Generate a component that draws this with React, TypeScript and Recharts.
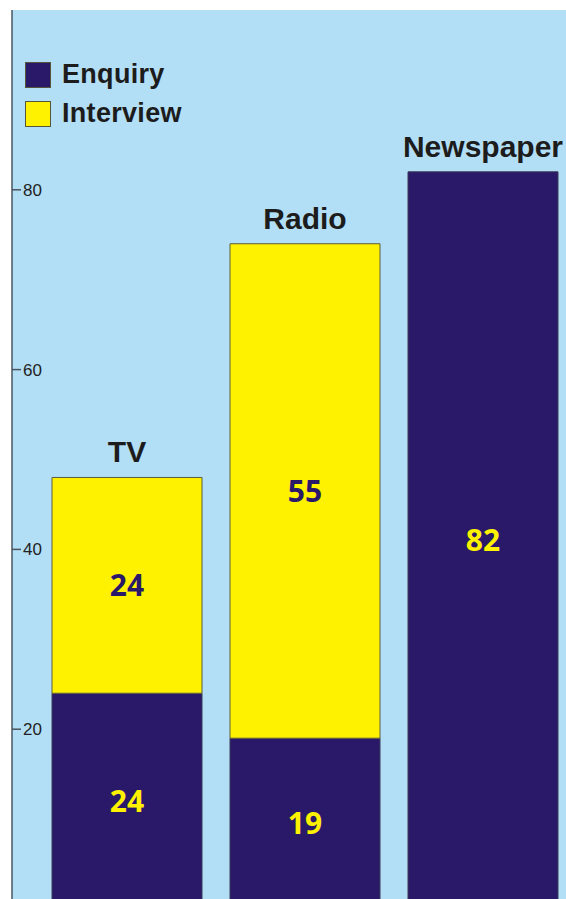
import { BarChart, Bar, XAxis, YAxis, CartesianGrid, LabelList, Legend } from "recharts"

const categories = ["TV", "Radio", "Newspaper"]
const enquiry = [24, 19, 82]
const interview = [24, 55, 0]
const yTicks = [20, 40, 60, 80]

const NAVY = "#2a1869"
const YELLOW = "#fff200"
const SKY = "#b3dff6"
const SANS = "'Liberation Sans', Arial, sans-serif"

const data = categories.map((name, i) => ({
  name,
  enquiry: enquiry[i],
  interview: interview[i],
}))

function LegendBox({ payload }: any) {
  return (
    <div>
      {(payload || []).map((p: any) => (
        <div key={p.value} style={{ display: "flex", alignItems: "center", height: 39 }}>
          <span
            style={{
              width: 26,
              height: 26,
              boxSizing: "border-box",
              background: p.color,
              border: "1px solid #55553a",
              marginRight: 11,
            }}
          />
          <span style={{ font: `bold 27px ${SANS}`, letterSpacing: 0.3, color: "#1c1c1c" }}>
            {p.value}
          </span>
        </div>
      ))}
    </div>
  )
}

// Category name above the whole stack, placed from the enquiry segment
function StackTitle(props: any) {
  const { viewBox, index } = props
  const { x, y, width, height } = viewBox
  const perUnit = height / enquiry[index]
  const top = y - interview[index] * perUnit
  return (
    <text
      x={x + width / 2}
      y={top - 15}
      textAnchor="middle"
      fill="#1c1c1c"
      fontSize={30}
      fontWeight="bold"
      fontFamily={SANS}
    >
      {categories[index]}
    </text>
  )
}

export default function App() {
  return (
    <div
      style={{
        position: "absolute",
        top: 0,
        left: 0,
        width: 566,
        height: 899,
        overflow: "hidden",
        background: "#fff",
      }}
    >
      <BarChart
        width={572}
        height={910}
        data={data}
        margin={{ top: 10, right: 0, left: 12, bottom: 1 }}
      >
        <CartesianGrid fill={SKY} horizontal={false} vertical={false} />
        <XAxis dataKey="name" hide padding={{ left: 26, right: 0 }} />
        <YAxis
          mirror
          domain={[0, 100]}
          ticks={yTicks}
          tickSize={9}
          tickMargin={2}
          axisLine={{ stroke: "#4a5560", strokeWidth: 1.5 }}
          tickLine={{ stroke: "#4a5560", strokeWidth: 1.5 }}
          tick={{ fill: "#222", fontSize: 17, fontFamily: SANS }}
        />
        <Legend
          layout="horizontal"
          verticalAlign="middle"
          align="center"
          content={<LegendBox />}
          wrapperStyle={{ position: "absolute", left: 25, top: 55, width: "auto" }}
        />
        <Bar
          dataKey="enquiry"
          name="Enquiry"
          stackId="s"
          fill={NAVY}
          stroke="#3a3a55"
          strokeWidth={1}
          barSize={150}
          isAnimationActive={false}
        >
          <LabelList
            dataKey="enquiry"
            position="center"
            fill={YELLOW}
            fontSize={30}
            fontWeight="bold"
            fontFamily="'Open Sans', sans-serif"
          />
          <LabelList dataKey="name" content={<StackTitle />} />
        </Bar>
        <Bar
          dataKey="interview"
          name="Interview"
          stackId="s"
          fill={YELLOW}
          stroke="#5c5c3d"
          strokeWidth={1}
          barSize={150}
          isAnimationActive={false}
        >
          <LabelList
            dataKey="interview"
            position="center"
            formatter={(v: any) => (v ? v : "")}
            fill={NAVY}
            fontSize={30}
            fontWeight="bold"
            fontFamily="'Open Sans', sans-serif"
          />
        </Bar>
      </BarChart>
    </div>
  )
}
